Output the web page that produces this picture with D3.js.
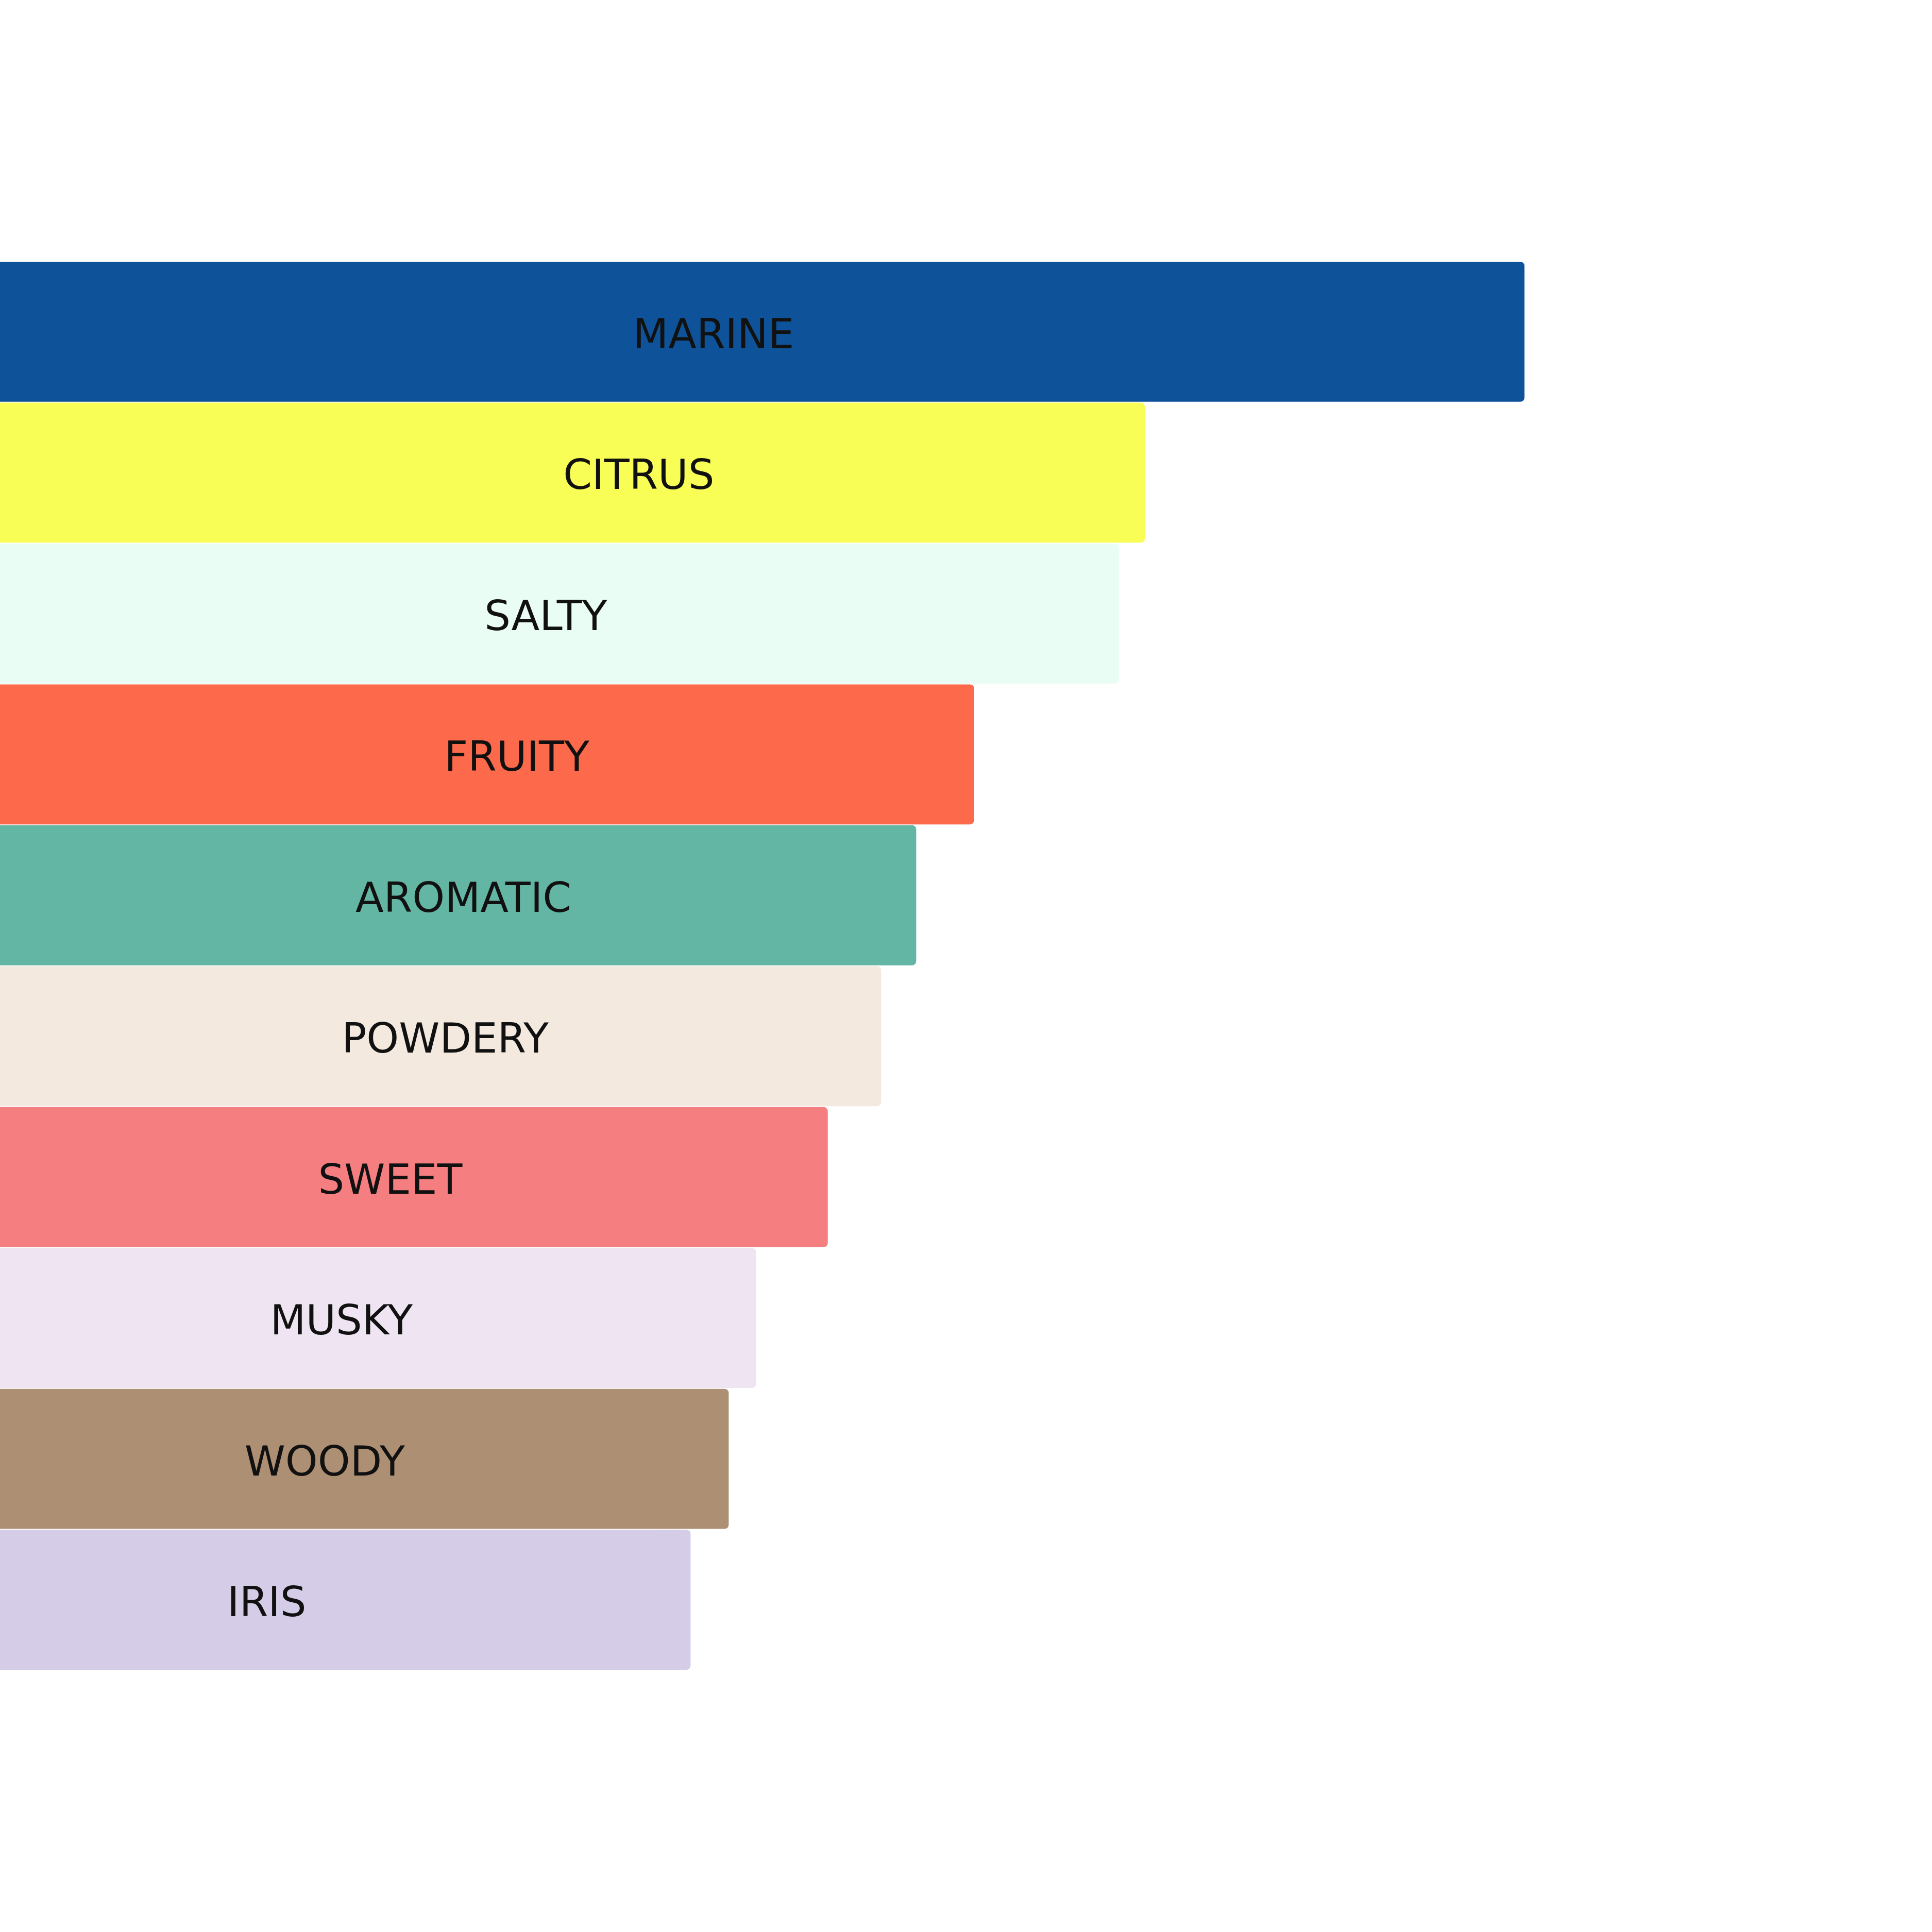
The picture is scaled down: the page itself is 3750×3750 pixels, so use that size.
<!DOCTYPE html>
<html>
<head>
<meta charset="utf-8">
<script src="https://cdn.jsdelivr.net/npm/d3@7"></script>
<style>
  html, body { margin: 0; padding: 0; background: #ffffff; }
  svg { display: block; }
</style>
</head>
<body>
<div id="chart"></div>
<script>
// Scent families, top to bottom
const categories = ["MARINE", "CITRUS", "SALTY", "FRUITY", "AROMATIC", "POWDERY", "SWEET", "MUSKY", "WOODY", "IRIS"];
// Bar lengths (relative score, MARINE = 100)
const values = [100, 75.1, 73.4, 63.9, 60.1, 57.8, 54.3, 49.6, 47.8, 45.3];
// Where each label sits along the same value axis
const labelAt = [46.8, 41.9, 35.8, 33.9, 30.4, 29.2, 25.6, 22.4, 21.3, 17.5];
const colors = ["#0e5399", "#f8fe55", "#eafdf5", "#fd694b", "#64b6a4", "#f3e9df", "#f47e80", "#efe5f2", "#ad8f73", "#d5cce7"];

const width = 3750;
const height = 3750;
const margin = { top: 508, right: 791, bottom: 509, left: 0 };
const rx = 8;

const rows = categories.map((c, i) => ({ name: c, value: values[i], label: labelAt[i], color: colors[i] }));

const svg = d3.select('#chart')
    .append('svg')
    .attr('width', width)
    .attr('height', height)
    .attr('viewBox', [0, 0, width, height]);

const x = d3.scaleLinear()
    .domain([0, d3.max(values)])
    .range([margin.left, width - margin.right]);

const y = d3.scaleBand()
    .domain(categories)
    .range([margin.top, height - margin.bottom])
    .paddingInner(0.006);

// Bars (left corners pushed off-canvas so only the right end is rounded)
svg.append('g')
    .selectAll('rect')
    .data(rows)
    .join('rect')
    .attr('x', x(0) - rx)
    .attr('y', d => y(d.name))
    .attr('width', d => x(d.value) - x(0) + rx)
    .attr('height', y.bandwidth())
    .attr('rx', rx)
    .attr('ry', rx)
    .attr('fill', d => d.color);

// Labels
svg.append('g')
    .selectAll('text')
    .data(rows)
    .join('text')
    .attr('x', d => x(d.label))
    .attr('y', d => y(d.name) + y.bandwidth() / 2)
    .attr('dy', '0.4em')
    .attr('text-anchor', 'middle')
    .attr('font-family', '"DejaVu Sans", Verdana, sans-serif')
    .attr('font-size', 80)
    .attr('fill', '#111111')
    .text(d => d.name);
</script>
</body>
</html>
